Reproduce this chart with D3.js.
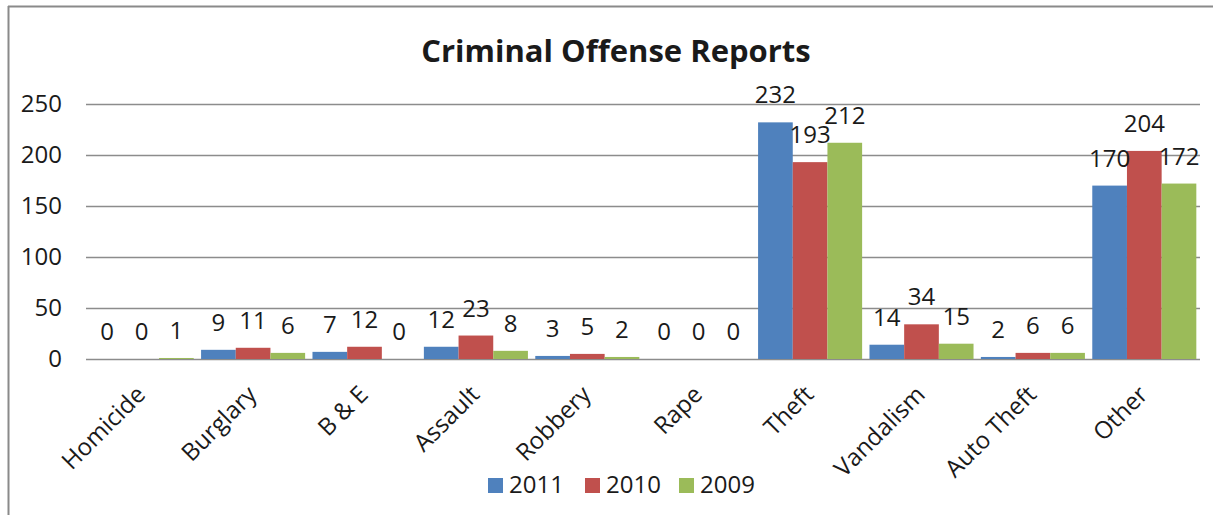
<!DOCTYPE html>
<html>
<head>
<meta charset="utf-8">
<script src="https://cdn.jsdelivr.net/npm/d3@7"></script>
<style>
  html, body { margin: 0; padding: 0; background: #fff; }
  svg { display: block; }
  text { font-family: "Open Sans", "Liberation Sans", sans-serif; fill: #1a1a1a; }
</style>
</head>
<body>
<script>
const categories = ["Homicide", "Burglary", "B & E", "Assault", "Robbery", "Rape", "Theft", "Vandalism", "Auto Theft", "Other"];
const seriesNames = ["2011", "2010", "2009"];
const values2011 = [0, 9, 7, 12, 3, 0, 232, 14, 2, 170];
const values2010 = [0, 11, 12, 23, 5, 0, 193, 34, 6, 204];
const values2009 = [1, 6, 0, 8, 2, 0, 212, 15, 6, 172];
const yTicks = [0, 50, 100, 150, 200, 250];
const colors = ["#4F81BD", "#C0504D", "#9BBB59"];
const titleText = "Criminal Offense Reports";

const seriesValues = [values2011, values2010, values2009];
const W = 1213, H = 515;
const svg = d3.select("body").append("svg").attr("width", W).attr("height", H);

// frame (top and left edges visible)
svg.append("line").attr("x1", 8).attr("x2", W).attr("y1", 6.5).attr("y2", 6.5)
  .attr("stroke", "#8a8a8a").attr("stroke-width", 2);
svg.append("line").attr("x1", 8.5).attr("x2", 8.5).attr("y1", 6).attr("y2", H)
  .attr("stroke", "#8a8a8a").attr("stroke-width", 2);

const plot = { left: 86, right: 1200, top: 104, bottom: 359 };

const x0 = d3.scaleBand().domain(categories).range([plot.left, plot.right])
  .paddingInner(0.066).paddingOuter(0.033);
const x1 = d3.scaleBand().domain(seriesNames).range([0, x0.bandwidth()]);
const y = d3.scaleLinear().domain([0, 250]).range([plot.bottom, plot.top]);

// gridlines
const yAxis = d3.axisLeft(y).tickValues(yTicks).tickSize(-(plot.right - plot.left)).tickPadding(24);
const gy = svg.append("g").attr("transform", `translate(${plot.left},0)`).call(yAxis);
gy.select(".domain").remove();
gy.selectAll(".tick line").attr("stroke", "#8c8c8c").attr("stroke-width", 1.5);
gy.selectAll(".tick text").attr("font-size", 24).attr("fill", "#1a1a1a")
  .attr("font-family", "'Open Sans', sans-serif");

// bars
const rows = categories.map((c, i) => ({ c, vals: seriesNames.map((s, j) => ({ s, j, v: seriesValues[j][i] })) }));
const groups = svg.append("g").selectAll("g").data(rows).join("g")
  .attr("transform", d => `translate(${x0(d.c)},0)`);
groups.selectAll("rect").data(d => d.vals).join("rect")
  .attr("x", d => x1(d.s))
  .attr("width", x1.bandwidth())
  .attr("y", d => y(d.v))
  .attr("height", d => plot.bottom - y(d.v))
  .attr("fill", d => colors[d.j]);
groups.selectAll("text").data(d => d.vals).join("text")
  .attr("x", d => x1(d.s) + x1.bandwidth() / 2)
  .attr("y", d => y(d.v) - 19)
  .attr("text-anchor", "middle")
  .attr("font-size", 24)
  .text(d => d.v);

// category labels
svg.append("g").selectAll("text").data(categories).join("text")
  .attr("transform", d => `translate(${x0(d) + x0.bandwidth() / 2 + 5},${396}) rotate(-45)`)
  .attr("text-anchor", "end")
  .attr("font-size", 24)
  .text(d => d);

// title
svg.append("text").attr("x", 616).attr("y", 62).attr("text-anchor", "middle")
  .attr("font-size", 31).attr("font-weight", "bold").text(titleText);

// legend
const legendX = [488, 585, 679];
const lg = svg.append("g").selectAll("g").data(seriesNames).join("g")
  .attr("transform", (d, i) => `translate(${legendX[i]},478)`);
lg.append("rect").attr("width", 15).attr("height", 15).attr("fill", (d, i) => colors[i]);
lg.append("text").attr("x", 21).attr("y", 15).attr("font-size", 24).text(d => d);
</script>
</body>
</html>
